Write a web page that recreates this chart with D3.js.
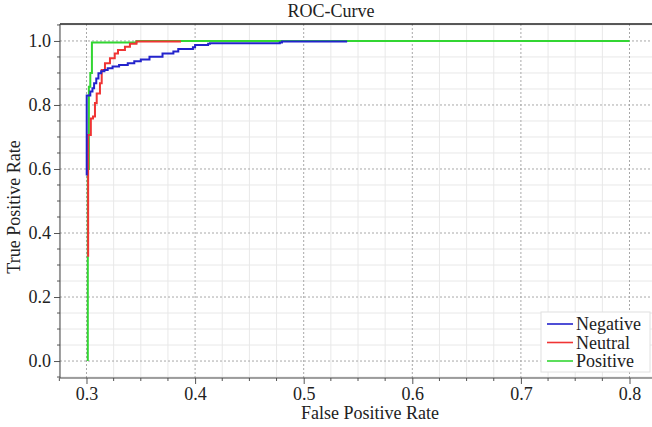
<!DOCTYPE html>
<html><head><meta charset="utf-8">
<script src="https://cdn.jsdelivr.net/npm/d3@7"></script>
<style>
html,body{margin:0;padding:0;background:#fff;overflow:hidden;}
</style></head>
<body><svg id="c" width="652" height="427"></svg>
<script>
// ---- data ----
const seriesNames = ["Negative", "Neutral", "Positive"];
const seriesColors = ["#2323cc", "#f03434", "#33d633"];
const negFpr = [0.3002,0.3002,0.3035,0.3055,0.307,0.309,0.311,0.3135,0.3165,0.3195,0.324,0.330,0.338,0.344,0.350,0.358,0.370,0.380,0.3845,0.398,0.400,0.412,0.4137,0.478,0.480,0.540];
const negTpr = [0.58,0.83,0.842,0.852,0.868,0.883,0.899,0.905,0.909,0.915,0.920,0.925,0.930,0.937,0.942,0.951,0.961,0.967,0.975,0.980,0.9875,0.991,0.993,0.995,0.998,0.998];
const neuFpr = [0.3015,0.3015,0.304,0.306,0.3078,0.3094,0.3124,0.314,0.317,0.3216,0.326,0.329,0.3354,0.340,0.346,0.387];
const neuTpr = [0.326,0.706,0.758,0.764,0.806,0.836,0.868,0.909,0.930,0.946,0.961,0.972,0.982,0.991,0.998,0.998];
const posFpr = [0.3012,0.3012,0.3022,0.3035,0.305,0.345,0.346,0.800];
const posTpr = [0.0,0.60,0.857,0.900,0.995,0.995,1.000,1.000];
const xTicks = [0.3,0.4,0.5,0.6,0.7,0.8];
const yTicks = [0.0,0.2,0.4,0.6,0.8,1.0];

const FONT = "Liberation Serif";
const svg = d3.select("#c");
const L = 60, T = 24, R = 656, B = 378;
const x = d3.scaleLinear().domain([0.2756, 0.8244]).range([L, R]);
const y = d3.scaleLinear().domain([-0.053, 1.053]).range([B, T]);

// minor grid
const xMinor = d3.range(0.275, 0.826, 0.025).filter(v => !xTicks.some(t => Math.abs(t - v) < 1e-6));
const yMinor = d3.range(-0.05, 1.06, 0.05).filter(v => !yTicks.some(t => Math.abs(t - v) < 1e-6));
const g = svg.append("g");
g.selectAll(".xm").data(xMinor).join("line")
  .attr("x1", d => x(d)).attr("x2", d => x(d)).attr("y1", T).attr("y2", B)
  .attr("stroke", "#e8e8e8").attr("stroke-width", 1);
g.selectAll(".ym").data(yMinor).join("line")
  .attr("y1", d => y(d)).attr("y2", d => y(d)).attr("x1", L).attr("x2", R)
  .attr("stroke", "#e8e8e8").attr("stroke-width", 1);
// major grid (dotted)
g.selectAll(".xM").data(xTicks).join("line")
  .attr("x1", d => x(d)).attr("x2", d => x(d)).attr("y1", T).attr("y2", B)
  .attr("stroke", "#a8a8a8").attr("stroke-width", 1).attr("stroke-dasharray", "2,2");
g.selectAll(".yM").data(yTicks).join("line")
  .attr("y1", d => y(d)).attr("y2", d => y(d)).attr("x1", L).attr("x2", R)
  .attr("stroke", "#a8a8a8").attr("stroke-width", 1).attr("stroke-dasharray", "2,2");

// axes
const xAxis = d3.axisBottom(x).tickValues(xTicks).tickFormat(d3.format(".1f")).tickSize(6).tickPadding(3);
const yAxis = d3.axisLeft(y).tickValues(yTicks).tickFormat(d3.format(".1f")).tickSize(6).tickPadding(3);
const gx = svg.append("g").attr("transform", `translate(0,${B})`).call(xAxis);
const gy = svg.append("g").attr("transform", `translate(${L},0)`).call(yAxis);
[gx, gy].forEach(a => {
  a.attr("font-family", FONT).attr("font-size", 18);
  a.select(".domain").remove();
  a.selectAll("line").attr("stroke", "#555");
  a.selectAll("text").attr("fill", "#222");
});
// minor ticks
svg.append("g").selectAll("line").data(xMinor).join("line")
  .attr("x1", d => x(d)).attr("x2", d => x(d)).attr("y1", B).attr("y2", B + 3).attr("stroke", "#555");
svg.append("g").selectAll("line").data(yMinor).join("line")
  .attr("y1", d => y(d)).attr("y2", d => y(d)).attr("x1", L).attr("x2", L - 3).attr("stroke", "#555");

// frame lines
svg.append("line").attr("x1", L).attr("x2", 652).attr("y1", T).attr("y2", T).attr("stroke", "#222").attr("stroke-width", 1.3);
svg.append("line").attr("x1", L).attr("x2", L).attr("y1", T).attr("y2", B).attr("stroke", "#444").attr("stroke-width", 1);
svg.append("line").attr("x1", L).attr("x2", 652).attr("y1", B).attr("y2", B).attr("stroke", "#444").attr("stroke-width", 1);

// curves
const line = d3.line().x(d => x(d[0])).y(d => y(d[1])).curve(d3.curveStepAfter);
const series = [
  { fpr: negFpr, tpr: negTpr, i: 0 },
  { fpr: neuFpr, tpr: neuTpr, i: 1 },
  { fpr: posFpr, tpr: posTpr, i: 2 }
];
const drawOrder = [2, 1, 0];
drawOrder.forEach(k => {
  const s = series[k];
  svg.append("path").datum(d3.zip(s.fpr, s.tpr))
    .attr("d", line).attr("fill", "none")
    .attr("stroke", seriesColors[s.i]).attr("stroke-width", 2);
});

// legend
const lg = svg.append("g").attr("font-family", FONT);
lg.append("rect").attr("x", 541).attr("y", 312).attr("width", 109).attr("height", 60)
  .attr("fill", "#fff").attr("stroke", "#e0e0e0");
seriesNames.forEach((n, i) => {
  const yy = 324 + i * 18.5;
  lg.append("line").attr("x1", 547).attr("x2", 573).attr("y1", yy).attr("y2", yy)
    .attr("stroke", seriesColors[i]).attr("stroke-width", 1.6);
  lg.append("text").attr("x", 576).attr("y", yy + 6).text(n)
    .attr("font-size", 18).attr("fill", "#222");
});

// titles
svg.append("text").attr("x", 331).attr("y", 17).attr("text-anchor", "middle").text("ROC-Curve").attr("font-size", 18).attr("fill", "#222").attr("font-family", FONT);
svg.append("text").attr("x", 370).attr("y", 419).attr("text-anchor", "middle").text("False Positive Rate").attr("font-size", 18).attr("fill", "#222").attr("font-family", FONT);
svg.append("text").attr("transform", "translate(20,207) rotate(-90)").attr("text-anchor", "middle").text("True Positive Rate").attr("font-size", 18).attr("fill", "#222").attr("font-family", FONT);
</script></body></html>
